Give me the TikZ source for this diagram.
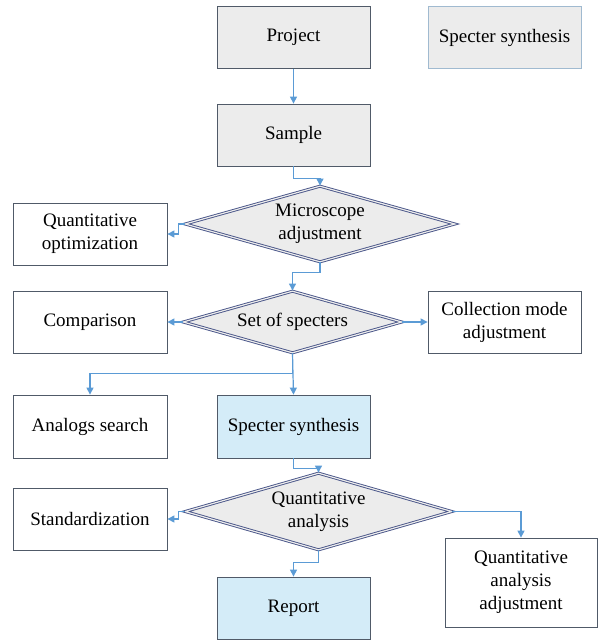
\documentclass[tikz,border=0pt]{standalone}
\usepackage{fontspec}
\setmainfont{Liberation Serif}
\newfontfamily\chartfont{Liberation Serif}
\usepackage{xcolor}
\usetikzlibrary{arrows.meta, positioning, shapes.geometric}

\definecolor{edge}{RGB}{80,90,104}
\definecolor{paleedge}{RGB}{160,186,208}
\definecolor{boxgray}{RGB}{236,236,236}
\definecolor{boxblue}{RGB}{212,236,248}
\definecolor{dmdedge}{RGB}{72,84,136}
\definecolor{link}{RGB}{91,155,213}

\begin{document}
\begin{tikzpicture}[
		x=1pt, y=-1pt,
		box/.style={draw=edge, thick, minimum width=153pt, minimum height=62pt,
			align=center, inner sep=2pt, font=\chartfont\fontsize{19}{23}\selectfont},
		dmd/.style={diamond, shape aspect=3.5, draw=dmdedge, line width=0.9pt,
			double=boxgray, double distance=1.2pt, fill=boxgray, inner sep=0pt,
			align=center, font=\chartfont\fontsize{19}{23}\selectfont},
		arr/.style={-{Triangle[length=7pt, width=7pt]}, draw=link, line width=1.2pt},
		>=Triangle
	]
	% pixel frame of the reference, y counted downwards
	\useasboundingbox (0,0) rectangle (600,640);

	% main column
	\node[box, fill=boxgray] (project) at (293.5,37.5) {Project};
	\node[box, fill=boxgray, draw=paleedge] (legend) at (504.5,37.5) {Specter synthesis};
	\node[box, fill=boxgray] (sample) at (293.5,135) {Sample};
	\node[dmd, minimum width=270pt, minimum height=76pt] (mic) at (320,224)
		{Microscope\\adjustment};
	\node[dmd, minimum width=219pt, minimum height=62pt] (set) at (292.5,322)
		{Set of specters};
	\node[box, fill=boxblue, minimum height=63pt] (syn) at (293.5,426.5) {Specter synthesis};
	\node[dmd, minimum width=267pt, minimum height=77pt] (qa) at (318.5,511.5)
		{Quantitative\\analysis};
	\node[box, fill=boxblue] (report) at (293.5,608) {Report};

	% side boxes
	\node[box, fill=white, minimum width=154pt] (qopt) at (90,234)
		{Quantitative\\optimization};
	\node[box, fill=white, minimum width=154pt] (comp) at (90,322) {Comparison};
	\node[box, fill=white] (coll) at (504.5,322) {Collection mode\\adjustment};
	\node[box, fill=white, minimum width=154pt, minimum height=63pt] (analog)
		at (90,426.5) {Analogs search};
	\node[box, fill=white, minimum width=154pt] (std) at (90,519) {Standardization};
	\node[box, fill=white, minimum width=152pt, minimum height=89pt] (qaadj)
		at (521,582.5) {Quantitative\\analysis\\adjustment};

	% connectors
	\draw[arr] (project) -- (sample);
	\draw[arr] (sample.south) -- ++(0,12) -| (mic.north);
	\draw[arr] (mic.west) -- ++(-6,0) |- (qopt.east);
	\draw[arr] (mic.south) -- ++(0,10) -| (set.north);
	\draw[arr] (set.west) -- (comp.east);
	\draw[arr] (set.east) -- (coll.west);
	\draw[arr] (set.south) -- ++(0,20) -| (analog.north);
	\draw[arr] (set.south) -- (syn.north);
	\draw[arr] (syn.south) -- ++(0,10) -| (qa.north);
	\draw[arr] (qa.west) -- ++(-6,0) |- (std.east);
	\draw[arr] (qa.south) -- ++(0,12) -| (report.north);
	\draw[arr] (qa.east) -| (qaadj.north);
\end{tikzpicture}
\end{document}
